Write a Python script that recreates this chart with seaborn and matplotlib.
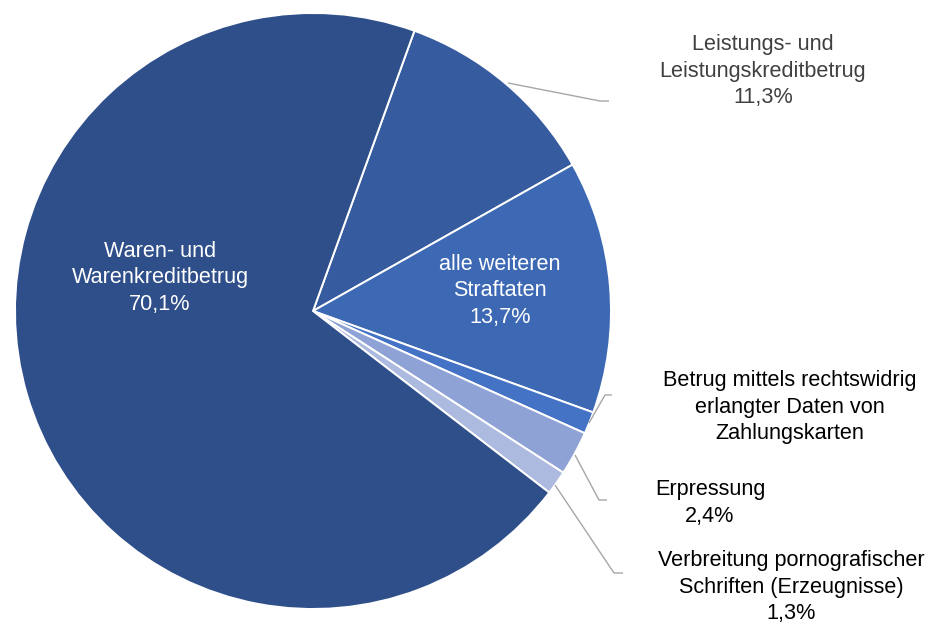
import matplotlib
matplotlib.use("Agg")
import matplotlib.pyplot as plt
import seaborn as sns

# Anteile der Betrugsdelikte (Prozent), im Uhrzeigersinn ab dem ersten Segment
categories = [
    "Leistungs- und\nLeistungskreditbetrug",
    "alle weiteren\nStraftaten",
    "Betrug mittels rechtswidrig\nerlangter Daten von\nZahlungskarten",
    "Erpressung",
    "Verbreitung pornografischer\nSchriften (Erzeugnisse)",
    "Waren- und\nWarenkreditbetrug",
]
shares = [11.3, 13.7, 1.2, 2.4, 1.3, 70.1]
show_value = [True, True, False, True, True, True]
colors = ["#365C9F", "#3D69B4", "#4472C4", "#8FA2D5", "#ADBADF", "#2F4F8A"]

sns.set_theme(style="white")
plt.rcParams["font.family"] = ["Liberation Sans", "DejaVu Sans"]

W, H = 937, 624
cx, cy, r = 313, 311, 298

fig = plt.figure(figsize=(W / 100, H / 100), dpi=100)
ax = fig.add_axes([0, 0, 1, 1])

wedges, _ = ax.pie(
    shares,
    colors=sns.color_palette(colors),
    startangle=70.1,
    counterclock=False,
    radius=1.0,
    wedgeprops=dict(edgecolor="white", linewidth=1.4),
)
ax.set_aspect("auto")
ax.set_xlim(-cx / r, (W - cx) / r)
ax.set_ylim((cy - H) / r, cy / r)
ax.axis("off")


def px(x, y):
    """Convert pixel position (top-left origin) to data coordinates."""
    return (x - cx) / r, (cy - y) / r


def label_text(i):
    txt = categories[i]
    if show_value[i]:
        txt += "\n" + f"{shares[i]:.1f}%".replace(".", ",")
    return txt


fs = 15.6
ls = 1.36

# Labels inside the pie
for i, (x, y) in {5: (160, 278), 1: (500, 291)}.items():
    ax.text(*px(x, y), label_text(i), ha="center", va="center",
            color="white", fontsize=fs, linespacing=ls)

# Labels outside with leader lines
outside = {
    0: dict(pos=(763, 71), color="#404040",
            line=[(508, 83), (600, 101), (609, 101)]),
    2: dict(pos=(790, 407), color="black",
            line=[(589, 423), (605, 395), (612, 395)]),
    3: dict(pos=(710, 503), color="black",
            line=[(575, 455), (599, 500), (607, 500)]),
    4: dict(pos=(791, 587), color="black",
            line=[(555, 485), (614, 573), (623, 573)]),
}
for i, spec in outside.items():
    ax.text(*px(*spec["pos"]), label_text(i), ha="center", va="center",
            color=spec["color"], fontsize=fs, linespacing=ls)
    xs, ys = zip(*[px(*p) for p in spec["line"]])
    ax.plot(xs, ys, color="#A6A6A6", linewidth=1.0, solid_capstyle="butt")

fig.savefig("out.png", dpi=100, facecolor="white")
